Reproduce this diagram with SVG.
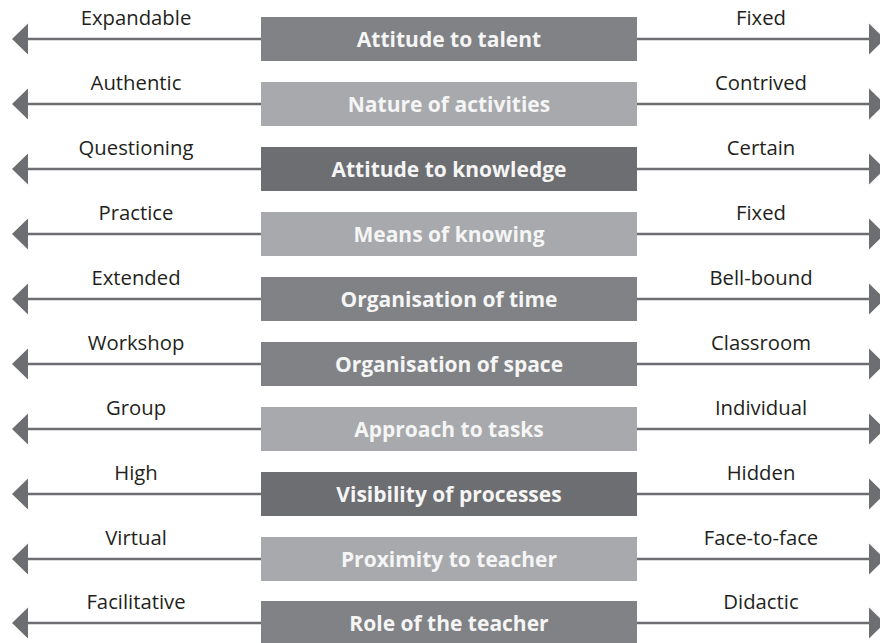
<svg xmlns="http://www.w3.org/2000/svg" width="880" height="643" viewBox="0 0 880 643">
  <style>
    .axis { stroke: #6d6e71; stroke-width: 2.6; fill: none; }
    .head { fill: #6d6e71; }
    .pole { font-family: "Open Sans", "Noto Sans", sans-serif; font-size: 20.3px; fill: #231f20; text-anchor: middle; }
    .box-dark { fill: #6d6e71; }
    .box-mid { fill: #808285; }
    .box-light { fill: #a7a9ac; }
    .title { font-family: "Open Sans", "Noto Sans", sans-serif; font-size: 21px; font-weight: 700; fill: #f5f5f5; text-anchor: middle; }
  </style>
  <defs>
    <!-- one double-headed axis, drawn around y = 0 -->
    <g id="axis">
      <line class="axis" x1="26" y1="0" x2="871" y2="0"/>
      <polygon class="head" points="12,0 28,-15.5 28,15.5"/>
      <polygon class="head" points="885,0 869,-15.5 869,15.5"/>
    </g>
  </defs>

  <!-- connectors: horizontal scales -->
  <g id="connectors">
    <use href="#axis" y="39"/>
    <use href="#axis" y="104"/>
    <use href="#axis" y="169"/>
    <use href="#axis" y="234"/>
    <use href="#axis" y="299"/>
    <use href="#axis" y="364"/>
    <use href="#axis" y="429"/>
    <use href="#axis" y="494"/>
    <use href="#axis" y="559"/>
    <use href="#axis" y="623"/>
  </g>

  <g id="row-talent" transform="translate(0,39)">
    <rect class="box-mid" x="261" y="-22" width="376" height="44"/>
    <text class="title" x="449" y="8">Attitude to talent</text>
    <text class="pole" x="136" y="-14">Expandable</text>
    <text class="pole" x="761" y="-14">Fixed</text>
  </g>

  <g id="row-activities" transform="translate(0,104)">
    <rect class="box-light" x="261" y="-22" width="376" height="44"/>
    <text class="title" x="449" y="8">Nature of activities</text>
    <text class="pole" x="136" y="-14">Authentic</text>
    <text class="pole" x="761" y="-14">Contrived</text>
  </g>

  <g id="row-knowledge" transform="translate(0,169)">
    <rect class="box-dark" x="261" y="-22" width="376" height="44"/>
    <text class="title" x="449" y="8">Attitude to knowledge</text>
    <text class="pole" x="136" y="-14">Questioning</text>
    <text class="pole" x="761" y="-14">Certain</text>
  </g>

  <g id="row-knowing" transform="translate(0,234)">
    <rect class="box-light" x="261" y="-22" width="376" height="44"/>
    <text class="title" x="449" y="8">Means of knowing</text>
    <text class="pole" x="136" y="-14">Practice</text>
    <text class="pole" x="761" y="-14">Fixed</text>
  </g>

  <g id="row-time" transform="translate(0,299)">
    <rect class="box-mid" x="261" y="-22" width="376" height="44"/>
    <text class="title" x="449" y="8">Organisation of time</text>
    <text class="pole" x="136" y="-14">Extended</text>
    <text class="pole" x="761" y="-14">Bell-bound</text>
  </g>

  <g id="row-space" transform="translate(0,364)">
    <rect class="box-mid" x="261" y="-22" width="376" height="44"/>
    <text class="title" x="449" y="8">Organisation of space</text>
    <text class="pole" x="136" y="-14">Workshop</text>
    <text class="pole" x="761" y="-14">Classroom</text>
  </g>

  <g id="row-tasks" transform="translate(0,429)">
    <rect class="box-light" x="261" y="-22" width="376" height="44"/>
    <text class="title" x="449" y="8">Approach to tasks</text>
    <text class="pole" x="136" y="-14">Group</text>
    <text class="pole" x="761" y="-14">Individual</text>
  </g>

  <g id="row-visibility" transform="translate(0,494)">
    <rect class="box-dark" x="261" y="-22" width="376" height="44"/>
    <text class="title" x="449" y="8">Visibility of processes</text>
    <text class="pole" x="136" y="-14">High</text>
    <text class="pole" x="761" y="-14">Hidden</text>
  </g>

  <g id="row-proximity" transform="translate(0,559)">
    <rect class="box-light" x="261" y="-22" width="376" height="44"/>
    <text class="title" x="449" y="8">Proximity to teacher</text>
    <text class="pole" x="136" y="-14">Virtual</text>
    <text class="pole" x="761" y="-14">Face-to-face</text>
  </g>

  <g id="row-role" transform="translate(0,623)">
    <rect class="box-mid" x="261" y="-22" width="376" height="44"/>
    <text class="title" x="449" y="8">Role of the teacher</text>
    <text class="pole" x="136" y="-14">Facilitative</text>
    <text class="pole" x="761" y="-14">Didactic</text>
  </g>
</svg>
